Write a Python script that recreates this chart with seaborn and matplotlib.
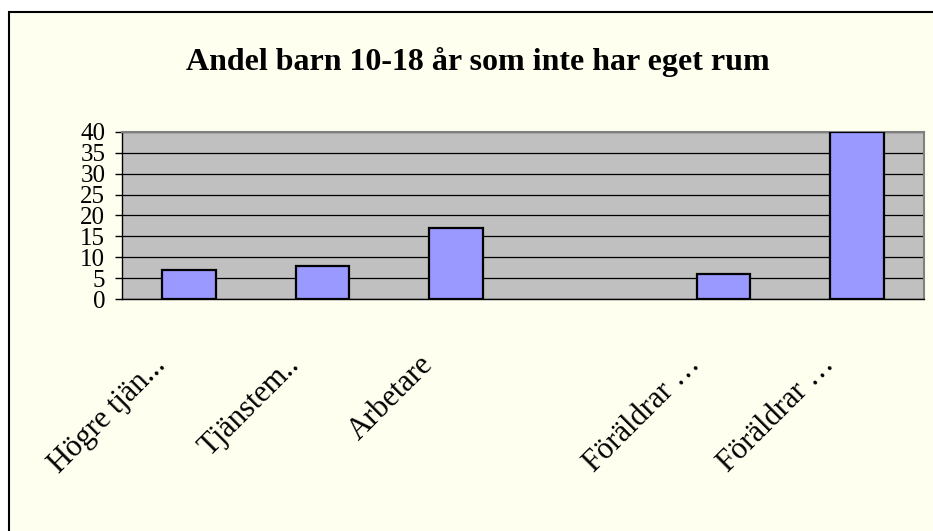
import pandas as pd
import seaborn as sn
import matplotlib.pyplot as plt
import matplotlib.transforms as mtrans
from matplotlib.patches import Rectangle

# data
grupper = ['Högre tjän...', 'Tjänstem..', 'Arbetare', '', 'Föräldrar …', 'Föräldrar …']
andel = [7, 8, 17, None, 6, 40]
yticks = [0, 5, 10, 15, 20, 25, 30, 35, 40]

df = pd.DataFrame({'pos': list(range(len(grupper))), 'andel': andel})

sn.set_style('white')
plt.rcParams['font.family'] = ['Liberation Serif', 'DejaVu Serif']
plt.rcParams['text.color'] = 'black'
plt.rcParams['xtick.color'] = 'black'
plt.rcParams['ytick.color'] = 'black'

fig = plt.figure(figsize=(9.33, 5.31), dpi=100, facecolor='white')
# chart area with border on top/left (rest is cropped)
bg = Rectangle((9/933, -0.1), 1.2, 1.1 - 12/531, transform=fig.transFigure,
               facecolor='#FFFFF0', edgecolor='black', linewidth=1.5, zorder=-10)
fig.patches.append(bg)

ax = fig.add_axes([122/933, 1 - 299/531, (924 - 122)/933, (299 - 132)/531])
ax.set_facecolor('#C0C0C0')

sn.barplot(x='pos', y='andel', data=df, order=list(range(len(grupper))),
           color='#9999FF', saturation=1, width=0.4, edgecolor='black',
           linewidth=1.6, ax=ax, zorder=3)

ax.set_ylim(0, 40)
ax.set_xlim(-0.5, len(grupper) - 0.5)
ax.set_yticks(yticks)
ax.set_yticklabels([str(v) for v in yticks], fontsize=18)
ax.yaxis.grid(True, color='black', linewidth=0.9, zorder=1)
ax.set_axisbelow(True)

ax.set_xticks(list(range(len(grupper))))
ax.set_xticklabels(grupper, rotation=45, ha='right', fontsize=22)
ax.set_xticks([i - 0.5 for i in range(len(grupper) + 1)], minor=True)
ax.tick_params(axis='x', which='major', length=0, pad=37)
ax.tick_params(axis='x', which='minor', length=6, width=1, direction='out', color='black')
ax.tick_params(axis='y', which='major', length=5, width=1, direction='out', color='black', pad=7, left=True)

# nudge the slanted labels to the left like in the original
shift = mtrans.ScaledTranslation(-0.17, 0, fig.dpi_scale_trans)
for lab in ax.get_xticklabels():
    lab.set_transform(lab.get_transform() + shift)

ax.set_xlabel('')
ax.set_ylabel('')
for s in ['left', 'bottom']:
    ax.spines[s].set_color('black')
    ax.spines[s].set_linewidth(1)
for s in ['top', 'right']:
    ax.spines[s].set_color('#808080')
    ax.spines[s].set_linewidth(1.5)

fig.text(478/933, 1 - 62/531, 'Andel barn 10-18 år som inte har eget rum',
         ha='center', va='center', fontsize=23, fontweight='bold')

plt.savefig('out.png', dpi=100, facecolor=fig.get_facecolor())
